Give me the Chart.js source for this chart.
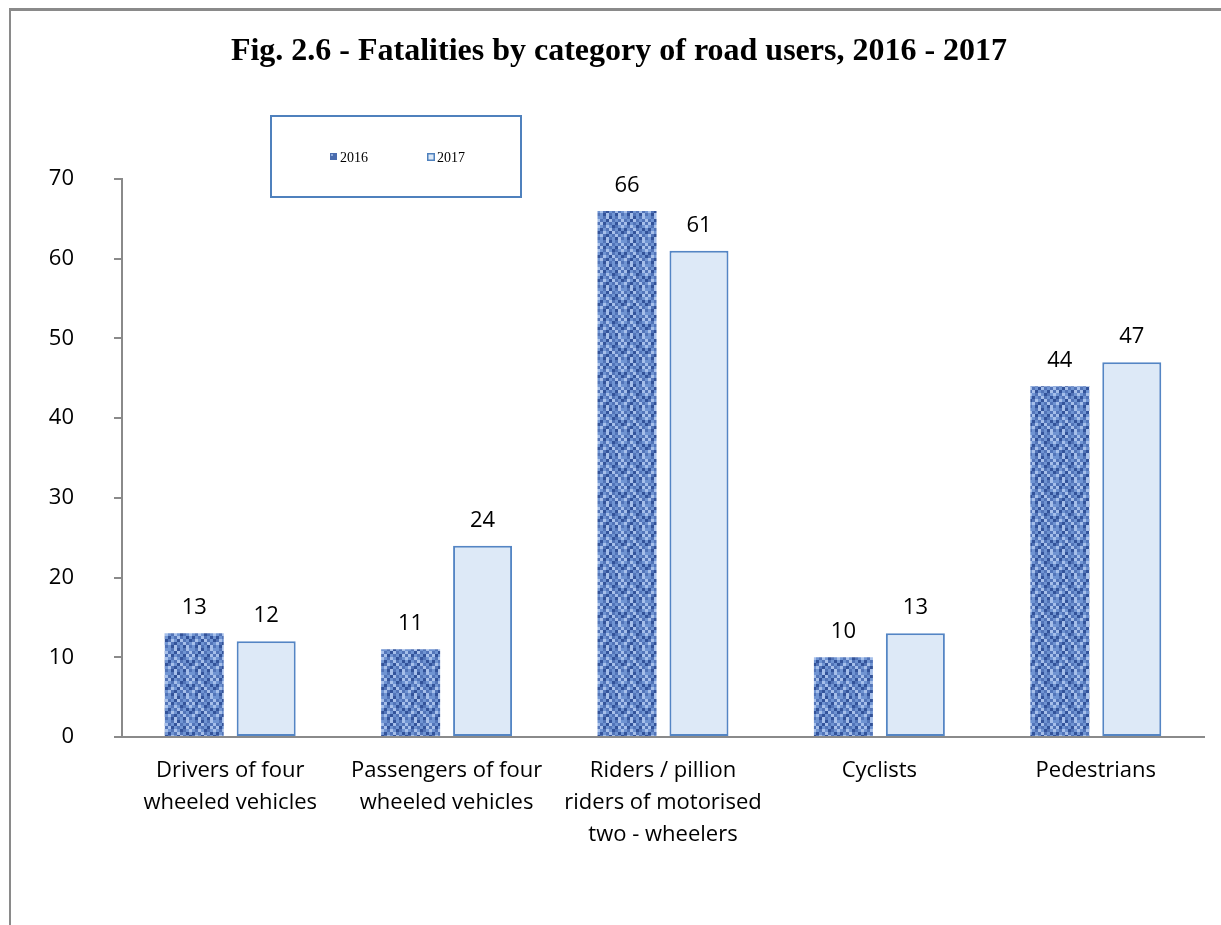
<!DOCTYPE html>
<html>
<head>
<meta charset="utf-8">
<script src="https://cdn.jsdelivr.net/npm/chart.js@4.4.1/dist/chart.umd.min.js"></script>
<style>
html,body{margin:0;padding:0;background:#fff;}
canvas{display:block;}
</style>
</head>
<body>
<canvas id="c" width="1221" height="925"></canvas>
<script>
const categories = [
  ["Drivers of four", "wheeled vehicles"],
  ["Passengers of four", "wheeled vehicles"],
  ["Riders / pillion", "riders of motorised", "two - wheelers"],
  ["Cyclists"],
  ["Pedestrians"]
];
const seriesLabels = ["2016", "2017"];
const values2016 = [13, 11, 66, 10, 44];
const values2017 = [12, 24, 61, 13, 47];
const yTicks = [0, 10, 20, 30, 40, 50, 60, 70];
const titleText = "Fig. 2.6 - Fatalities by category of road users, 2016 - 2017";

// mottled woven texture for 2016 bars (fixed hand-made tile)
function makeWeave() {
  const rows = [
    "21302132",
    "12031213",
    "30212031",
    "21320123",
    "02131202",
    "13203120",
    "31021312",
    "20312031"
  ];
  const pal = ['#33539a', '#5274b8', '#7094d2', '#a6bfea'];
  const s = 3;
  const t = document.createElement('canvas');
  t.width = 8 * s; t.height = 8 * s;
  const g = t.getContext('2d');
  rows.forEach((r, y) => {
    for (let x = 0; x < r.length; x++) {
      g.fillStyle = pal[+r[x]];
      g.fillRect(x * s, y * s, s, s);
    }
  });
  return g.createPattern(t, 'repeat');
}
const ctx = document.getElementById('c').getContext('2d');
const weave = makeWeave();

const frame = {
  id: 'frame',
  beforeDraw(chart) {
    const c = chart.ctx;
    c.save();
    c.fillStyle = '#fff';
    c.fillRect(0, 0, chart.width, chart.height);
    c.fillStyle = '#8a8a8a';
    c.fillRect(9, 8, chart.width - 9, 3);
    c.fillRect(9, 8, 2, chart.height - 8);
    c.font = 'bold 32px "Liberation Serif"';
    c.fillStyle = '#000';
    c.textAlign = 'center';
    c.textBaseline = 'middle';
    c.fillText(titleText, 619, 52);
    c.restore();
  }
};

const customLegend = {
  id: 'customLegend',
  afterDraw(chart) {
    const c = chart.ctx;
    c.save();
    c.strokeStyle = '#4f81bd';
    c.lineWidth = 2;
    c.strokeRect(271, 116, 250, 81);
    c.font = '14px "Liberation Serif"';
    c.textBaseline = 'middle';
    const xs = [330, 427];
    chart.data.datasets.forEach((ds, i) => {
      const x = xs[i], y = 157;
      if (i === 0) {
        c.fillStyle = '#4a6cae'; c.fillRect(x, y - 4, 7, 7);
        c.fillStyle = '#8fabdc'; c.fillRect(x + 1, y - 3, 2, 2);
      } else {
        c.fillStyle = '#dde9f7'; c.fillRect(x, y - 4, 8, 8);
        c.strokeStyle = '#4f81bd'; c.lineWidth = 1.5; c.strokeRect(x + 0.75, y - 3.25, 6.5, 6.5);
      }
      c.fillStyle = '#000';
      c.fillText(ds.label, x + 10, y + 1);
    });
    c.restore();
  }
};

const dataLabels = {
  id: 'dataLabels',
  afterDatasetsDraw(chart) {
    const c = chart.ctx;
    c.save();
    c.font = '22px "Open Sans"';
    c.fillStyle = '#000';
    c.textAlign = 'center';
    c.textBaseline = 'alphabetic';
    chart.data.datasets.forEach((ds, i) => {
      const meta = chart.getDatasetMeta(i);
      meta.data.forEach((el, j) => {
        c.fillText(String(ds.data[j]), el.x, el.y - 19);
      });
    });
    c.restore();
  }
};

new Chart(ctx, {
  type: 'bar',
  data: {
    labels: categories,
    datasets: [
      {
        label: seriesLabels[0],
        data: values2016,
        backgroundColor: weave,
        borderWidth: 0,
        categoryPercentage: 0.665,
        barPercentage: 0.82
      },
      {
        label: seriesLabels[1],
        data: values2017,
        backgroundColor: '#dde9f7',
        borderColor: '#5485c4',
        borderWidth: 2,
        borderSkipped: false,
        categoryPercentage: 0.665,
        barPercentage: 0.82
      }
    ]
  },
  options: {
    responsive: false,
    animation: false,
    layout: { padding: { top: 179, left: 0, right: 17, bottom: 0 } },
    plugins: {
      legend: { display: false },
      tooltip: { enabled: false },
      title: { display: false }
    },
    scales: {
      x: {
        grid: { display: false, drawTicks: false },
        border: { display: true, color: '#8a8a8a', width: 2 },
        ticks: {
          color: '#000',
          font: { family: '"Open Sans"', size: 22, lineHeight: 1.4545 },
          padding: 18,
          maxRotation: 0,
          autoSkip: false
        },
        afterFit(scale) { scale.height = 188; }
      },
      y: {
        min: 0,
        max: 70,
        afterBuildTicks(scale) { scale.ticks = yTicks.map(v => ({ value: v })); },
        grid: { drawOnChartArea: false, drawTicks: true, tickLength: 8, color: '#8a8a8a', lineWidth: 2 },
        border: { display: true, color: '#8a8a8a', width: 2 },
        ticks: {
          color: '#000',
          font: { family: '"Open Sans"', size: 22 },
          padding: 40
        },
        afterFit(scale) { scale.width = 122; }
      }
    }
  },
  plugins: [frame, dataLabels, customLegend]
});
</script>
</body>
</html>
